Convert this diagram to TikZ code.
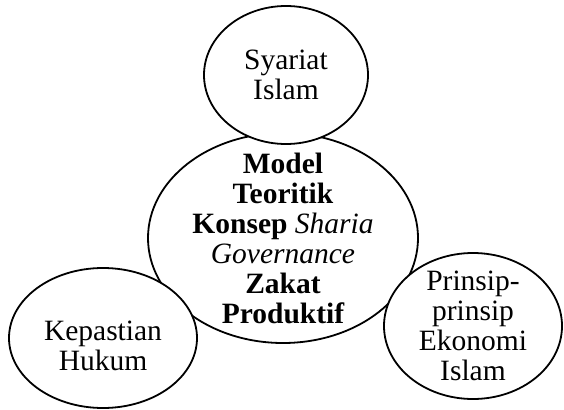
\documentclass[tikz,border=0pt]{standalone}
\usepackage{fontspec}
\setmainfont{Liberation Serif}
\tikzset{
  bubble/.style={draw, ellipse, line width=1.8pt, fill=white, inner sep=0pt},
  txt/.style={font=\fontsize{29.5}{30}\selectfont, align=center, inner sep=0pt}
}
\usetikzlibrary{shapes.geometric}
\begin{document}
\begin{tikzpicture}[x=1pt, y=-1pt]
\useasboundingbox (0,0) rectangle (564,409);
\node [bubble, minimum width=270pt, minimum height=210pt] (model) at (283,238) {};
\node [bubble, minimum width=164pt, minimum height=138pt] (syariat) at (286,75) {};
\node [bubble, minimum width=188pt, minimum height=140pt] (hukum) at (103,338) {};
\node [bubble, minimum width=178pt, minimum height=146pt] (ekonomi) at (473,326) {};
\node [txt, font=\fontsize{29.5}{30}\selectfont\bfseries] (modeltext) at (model) {Model\\Teoritik\\Konsep {\mdseries\itshape Sharia}\\{\mdseries\itshape Governance}\\Zakat\\Produktif};
\node [txt] (syariattext) at (syariat) {Syariat\\Islam};
\node [txt] (hukumtext) at ([yshift=-8pt]hukum.center) {Kepastian\\Hukum};
\node [txt] (ekonomitext) at (ekonomi) {Prinsip-\\prinsip\\Ekonomi\\Islam};
\end{tikzpicture}
\end{document}
